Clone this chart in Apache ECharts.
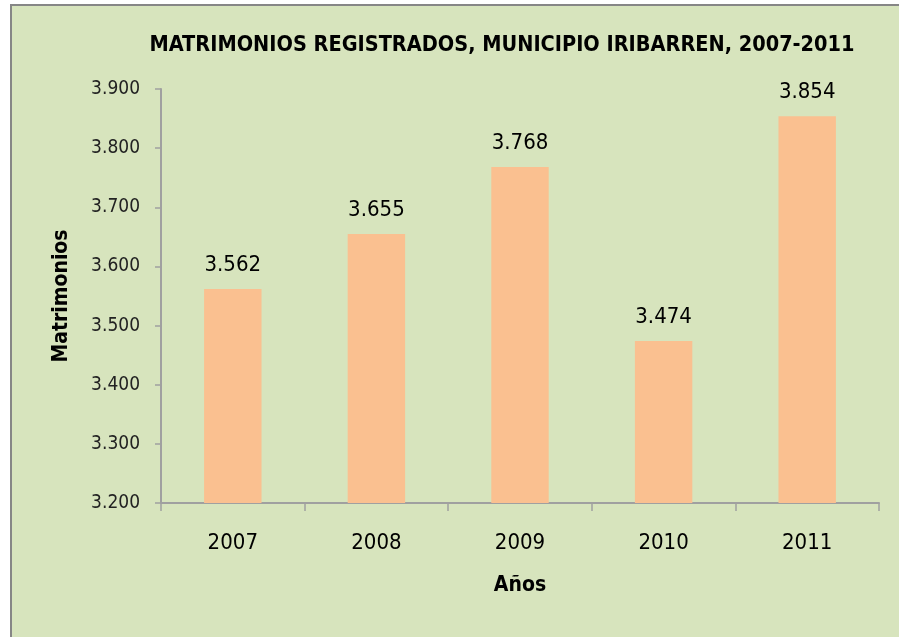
<!DOCTYPE html>
<html>
<head>
<meta charset="utf-8">
<script src="https://cdn.jsdelivr.net/npm/echarts@6/dist/echarts.min.js"></script>
<style>
html, body { margin: 0; padding: 0; background: #ffffff; }
#chart { width: 899px; height: 637px; }
</style>
</head>
<body>
<div id="chart"></div>
<script>
// datos del gráfico
const years = ['2007', '2008', '2009', '2010', '2011'];
const matrimonios = [3562, 3655, 3768, 3474, 3854];
const narrow = '"Liberation Sans Narrow", "DejaVu Sans Condensed", "Arial Narrow", sans-serif';

// formato con punto de miles, como en el original
function miles(v) {
    return String(v).replace(/\B(?=(\d{3})+(?!\d))/g, '.');
}

var myChart = echarts.init(document.getElementById('chart'));
var option = {
    animation: false,
    graphic: [
        {
            type: 'rect',
            shape: { x: 11, y: 5, width: 900, height: 650 },
            style: { fill: '#d7e4bd', stroke: '#868686', lineWidth: 2 },
            z: -10
        }
    ],
    title: {
        text: 'MATRIMONIOS REGISTRADOS, MUNICIPIO IRIBARREN, 2007-2011',
        left: 497,
        textAlign: 'center',
        top: 29,
        textStyle: { fontFamily: narrow, fontWeight: 'bold', fontSize: 21.5, color: '#000000' }
    },
    grid: { left: 161, right: 20, top: 89, bottom: 134 },
    xAxis: {
        type: 'category',
        data: years,
        name: 'Años',
        nameLocation: 'middle',
        nameGap: 72,
        nameTextStyle: { fontFamily: narrow, fontWeight: 'bold', fontSize: 21, color: '#000000' },
        axisLine: { lineStyle: { color: '#a0a0a0', width: 2 } },
        axisTick: { show: true, length: 8, lineStyle: { color: '#a0a0a0', width: 1.5 } },
        axisLabel: { fontFamily: narrow, fontSize: 22, color: '#000000', margin: 29 }
    },
    yAxis: {
        type: 'value',
        min: 3200,
        max: 3900,
        interval: 100,
        name: 'Matrimonios',
        nameLocation: 'middle',
        nameGap: 89,
        nameRotate: 90,
        nameTextStyle: { fontFamily: narrow, fontWeight: 'bold', fontSize: 21, color: '#000000' },
        axisLine: { show: true, lineStyle: { color: '#a0a0a0', width: 2 } },
        axisTick: { show: true, length: 6, lineStyle: { color: '#a0a0a0', width: 1.5 } },
        splitLine: { show: false },
        axisLabel: {
            fontFamily: narrow, fontSize: 19, color: '#222222', margin: 21,
            formatter: function (v) { return miles(v); }
        }
    },
    series: [
        {
            type: 'bar',
            data: matrimonios,
            barWidth: '40%',
            itemStyle: { color: '#fac090' },
            label: {
                show: true,
                position: 'top',
                distance: 13,
                fontFamily: narrow,
                fontSize: 22,
                color: '#000000',
                formatter: function (p) { return miles(p.value); }
            }
        }
    ]
};
myChart.setOption(option);
</script>
</body>
</html>
